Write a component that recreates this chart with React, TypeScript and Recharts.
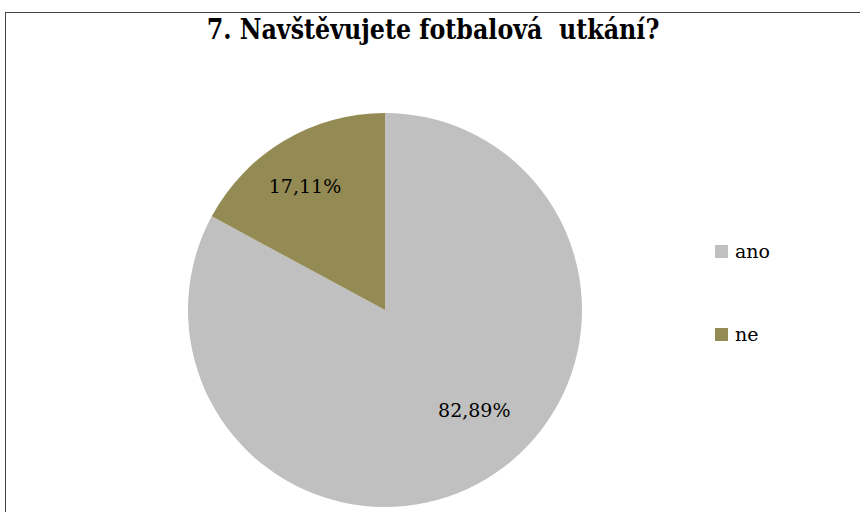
import { PieChart, Pie, Cell, Legend } from "recharts"

const categories = ["ano", "ne"]
const values = [82.89, 17.11]
const colors = ["#C0C0C0", "#948A54"]

const data = categories.map((name, i) => ({ name, value: values[i] }))

const SERIF = "'DejaVu Serif', 'Liberation Serif', 'Times New Roman', serif"
const RAD = Math.PI / 180

// Excel "best fit" puts the labels a little off the slice bisector
const labelAngleShift = [11, 2]
const labelRadius = [0.68, 0.75]

function renderLabel(props: any) {
  const { cx, cy, midAngle, outerRadius, value, index } = props
  const a = (midAngle + labelAngleShift[index]) * RAD
  const r = outerRadius * labelRadius[index]
  const x = cx + r * Math.cos(-a)
  const y = cy + r * Math.sin(-a)
  return (
    <text
      x={x}
      y={y}
      textAnchor="middle"
      dominantBaseline="central"
      fill="#000"
      style={{ fontFamily: SERIF, fontSize: 19 }}
    >
      {value.toFixed(2).replace(".", ",") + "%"}
    </text>
  )
}

function LegendBox() {
  return (
    <div style={{ fontFamily: SERIF, fontSize: 19 }}>
      {data.map((d, i) => (
        <div key={d.name} style={{ display: "flex", alignItems: "center", height: 30, marginBottom: i === 0 ? 53 : 0 }}>
          <span style={{ width: 13, height: 13, background: colors[i], display: "inline-block", marginRight: 7 }} />
          <span>{d.name}</span>
        </div>
      ))}
    </div>
  )
}

export default function App() {
  return (
    <div style={{ position: "fixed", left: 0, top: 0, width: 860, height: 512, background: "#fff", overflow: "hidden" }}>
      <div
        style={{
          position: "absolute",
          left: 5,
          top: 12,
          width: 900,
          height: 600,
          borderTop: "1px solid #444",
          borderLeft: "1px solid #444",
        }}
      />
      <div
        style={{
          position: "absolute",
          left: 0,
          top: 14,
          width: 866,
          textAlign: "center",
          fontFamily: SERIF,
          fontWeight: "bold",
          fontSize: 27,
          whiteSpace: "pre",
          transform: "scaleX(0.88)",
        }}
      >
        {"7. Navštěvujete fotbalová  utkání?"}
      </div>
      <div style={{ position: "absolute", left: 0, top: 0 }}>
        <PieChart width={860} height={512} margin={{ top: 0, right: 0, bottom: 0, left: 0 }}>
          <Pie
            data={data}
            dataKey="value"
            nameKey="name"
            cx={385}
            cy={310}
            outerRadius={197}
            startAngle={90}
            endAngle={-270}
            stroke="none"
            label={renderLabel}
            labelLine={false}
            isAnimationActive={false}
          >
            {data.map((d, i) => (
              <Cell key={d.name} fill={colors[i]} />
            ))}
          </Pie>
          <Legend
            layout="vertical"
            content={<LegendBox />}
            wrapperStyle={{ position: "absolute", left: 715, top: 236, width: 100 }}
          />
        </PieChart>
      </div>
    </div>
  )
}
